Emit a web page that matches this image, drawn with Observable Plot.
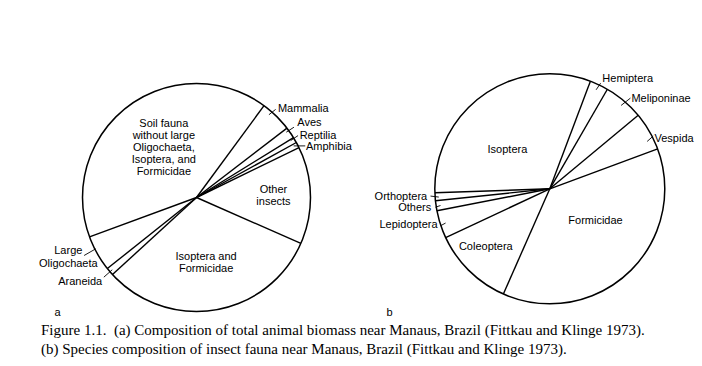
<!DOCTYPE html>
<html><head><meta charset="utf-8">
<script src="https://cdn.jsdelivr.net/npm/d3@7"></script>
<script src="https://cdn.jsdelivr.net/npm/@observablehq/plot@0.6"></script>
<style>
body{margin:0;background:#fff;width:702px;height:366px;overflow:hidden;position:relative}
#chart svg{display:block}
.cap{position:absolute;left:41px;font-family:"Liberation Serif","Times New Roman",serif;font-size:15px;line-height:17px;color:#000;white-space:nowrap}
</style></head><body>
<div id="chart"></div>
<div class="cap" style="top:322px">Figure 1.1.&nbsp; (a) Composition of total animal biomass near Manaus, Brazil (Fittkau and Klinge 1973).</div>
<div class="cap" style="top:341px">(b) Species composition of insect fauna near Manaus, Brazil (Fittkau and Klinge 1973).</div>
<script>
// ---- data (percent of pie) ----
const biomassCategories = ["Soil fauna\nwithout large\nOligochaeta,\nIsoptera, and\nFormicidae", "Mammalia", "Aves", "Reptilia", "Amphibia", "Other\ninsects", "Isoptera and\nFormicidae", "Araneida", "Large\nOligochaeta"];
const biomassShares = [40.7, 4.5, 1.6, 0.8, 0.8, 13.8, 31.6, 1.1, 5.1];
const insectCategories = ["Isoptera", "Hemiptera", "Meliponinae", "Vespida", "Formicidae", "Coleoptera", "Lepidoptera", "Others", "Orthoptera"];
const insectShares = [31.25, 2.6, 5.6, 5.4, 37.2, 11.4, 3.9, 1.4, 1.1];
const panelLetters = ["a", "b"];

// ---- layout ----
const deg = Math.PI / 180;
const lineStep = 12.1;
const pieA = {cx: 196, cy: 197, r: 114, start: 249.8};
const pieB = {cx: 549.3, cy: 188.3, r: 115, start: 268};
// label placement: kind "in" -> {t, rr}; kind "out" -> {t, rr, v:[dx,dy], o:[dx,dy], anchor}
const labelsA = [
  {kind: "in", t: 0.527, rr: 60},
  {kind: "out", t: 0.3, rr: 110, v: [6.7, -5.3], o: [2.3, -1.3], anchor: "start"},
  {kind: "out", t: 0.25, rr: 111, v: [7.7, -5], o: [3.3, -4.3], anchor: "start"},
  {kind: "out", t: 0.2, rr: 110, v: [7.4, -5], o: [1.6, 0], anchor: "start"},
  {kind: "out", t: 0.3, rr: 110, v: [11.6, 0], o: [0.7, 1], anchor: "start"},
  {kind: "in", t: 0.49, rr: 77},
  {kind: "in", t: 0.509, rr: 66},
  {kind: "out", t: 0.48, rr: 111, v: [-8.4, 7.4], o: [-1.6, 4], anchor: "end"},
  {kind: "out", t: 0.63, rr: 113, v: [-11.7, 6.7], o: [-15.8, 1.5], anchor: "middle"}
];
const labelsB = [
  {kind: "in", t: 0.40, rr: 58},
  {kind: "out", t: 0.47, rr: 109.3, v: [4.5, -6.6], o: [1.7, -4.7], anchor: "start"},
  {kind: "out", t: 0.52, rr: 109.7, v: [9.3, -7.3], o: [1, 0.6], anchor: "start"},
  {kind: "out", t: 0.71, rr: 108.3, v: [6, -5.3], o: [1.3, 2], anchor: "start"},
  {kind: "in", t: 0.41, rr: 55.6},
  {kind: "in", t: 0.59, rr: 86},
  {kind: "out", t: 0.49, rr: 109.7, v: [-5, 2.7], o: [-3, -1], anchor: "end"},
  {kind: "out", t: 0.46, rr: 110.6, v: [-5, 1.7], o: [-4.3, 0], anchor: "end"},
  {kind: "out", t: 0.43, rr: 111.3, v: [-8.3, -1], o: [-3.3, 0.3], anchor: "end"}
];
const letterPos = [[57, 312], [389, 312]];

function buildPie(names, values, geo, specs) {
  const arcs = d3.pie().sort(null).value(d => d)
    .startAngle(geo.start * deg).endAngle(geo.start * deg + 2 * Math.PI)(values);
  const pt = (a, rad) => [geo.cx + rad * Math.sin(a), geo.cy - rad * Math.cos(a)];
  const bounds = arcs.map(a => { const [x, y] = pt(a.startAngle, geo.r); return {x1: geo.cx, y1: geo.cy, x2: x, y2: y}; });
  const leaders = [], texts = [];
  const pushLines = (x, y, label, anchor) => {
    const lines = label.split("\n");
    lines.forEach((line, k) => texts.push({x, y: y + (k - (lines.length - 1) / 2) * lineStep, text: line, anchor}));
  };
  arcs.forEach((a, i) => {
    const s = specs[i];
    const ang = a.startAngle + s.t * (a.endAngle - a.startAngle);
    const [x, y] = pt(ang, s.rr);
    if (s.kind === "in") {
      pushLines(x, y, names[i], "middle");
    } else {
      const x2 = x + s.v[0], y2 = y + s.v[1];
      leaders.push({x1: x, y1: y, x2, y2});
      pushLines(x2 + s.o[0], y2 + s.o[1], names[i], s.anchor);
    }
  });
  return {bounds, leaders, texts};
}

const A = buildPie(biomassCategories, biomassShares, pieA, labelsA);
const B = buildPie(insectCategories, insectShares, pieB, labelsB);
const allBounds = A.bounds.concat(B.bounds);
const allLeaders = A.leaders.concat(B.leaders);
const allTexts = A.texts.concat(B.texts);
const letters = panelLetters.map((t, i) => ({text: t, x: letterPos[i][0], y: letterPos[i][1]}));

const textOpts = anchor => ({x: "x", y: "y", text: "text", textAnchor: anchor, fill: "#000", fontSize: 11});
const chart = Plot.plot({
  width: 702, height: 322, margin: 0,
  x: {type: "identity"}, y: {type: "identity"},
  style: {fontFamily: "'Liberation Sans', Arial, Helvetica, sans-serif", fontSize: "11px", background: "#fff", color: "#000"},
  marks: [
    Plot.dot([pieA], {x: "cx", y: "cy", r: pieA.r, fill: "#fff", stroke: "#000", strokeWidth: 1.5}),
    Plot.dot([pieB], {x: "cx", y: "cy", r: pieB.r, fill: "#fff", stroke: "#000", strokeWidth: 1.5}),
    Plot.link(allBounds, {x1: "x1", y1: "y1", x2: "x2", y2: "y2", stroke: "#000", strokeWidth: 1.4}),
    Plot.link(allLeaders, {x1: "x1", y1: "y1", x2: "x2", y2: "y2", stroke: "#000", strokeWidth: 0.9}),
    Plot.text(allTexts.filter(d => d.anchor === "start"), textOpts("start")),
    Plot.text(allTexts.filter(d => d.anchor === "middle"), textOpts("middle")),
    Plot.text(allTexts.filter(d => d.anchor === "end"), textOpts("end")),
    Plot.text(letters, textOpts("middle"))
  ]
});
document.getElementById("chart").appendChild(chart);
</script>
</body></html>
